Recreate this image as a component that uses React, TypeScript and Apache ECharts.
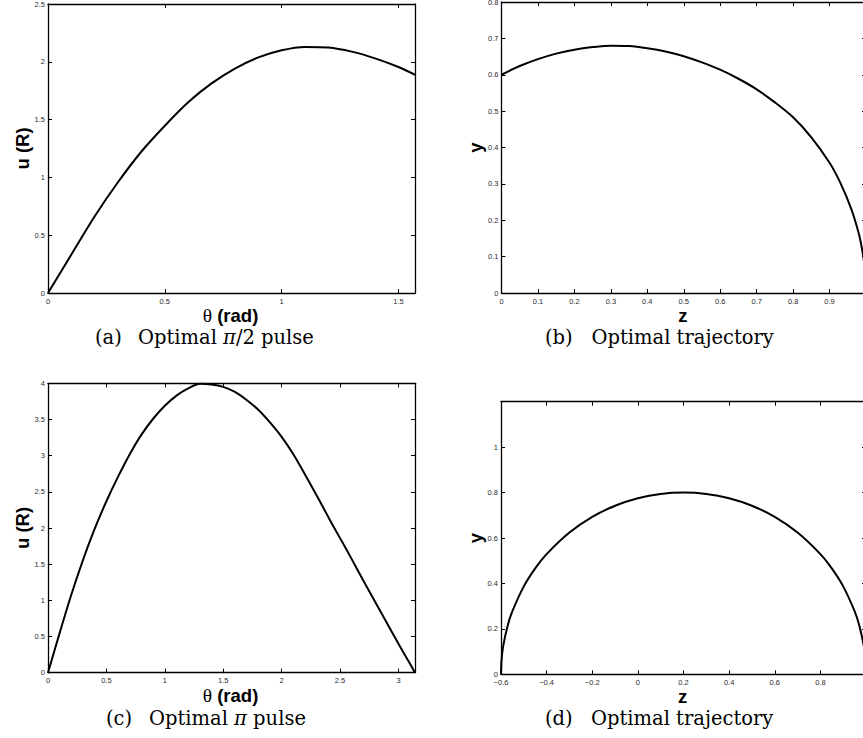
import React, { useEffect, useRef } from "react";
import * as echarts from "echarts";

// (a) optimal pi/2 pulse: control amplitude u (units of R) against rotation angle theta
const thetaHalf = [0, 0.1, 0.2, 0.3, 0.4, 0.5, 0.6, 0.7, 0.8, 0.9, 1.0, 1.1, 1.2, 1.3, 1.4, 1.5, 1.5708];
const uHalf = [0, 0.333, 0.664, 0.96, 1.224, 1.447, 1.65, 1.813, 1.942, 2.038, 2.1, 2.129, 2.124, 2.088, 2.03, 1.955, 1.888];

// (b) trajectory of the pi/2 pulse in the (z, y) plane
const zTrajHalf = [0, 0.05, 0.1, 0.15, 0.2, 0.25, 0.3, 0.35, 0.4, 0.45, 0.5, 0.55, 0.6, 0.65, 0.7, 0.75, 0.8, 0.85, 0.9, 0.93, 0.96, 0.98, 0.99, 0.997, 1.0];
const yTrajHalf = [0.6, 0.624, 0.643, 0.658, 0.669, 0.676, 0.68, 0.679, 0.673, 0.664, 0.651, 0.634, 0.614, 0.589, 0.56, 0.524, 0.483, 0.428, 0.358, 0.302, 0.23, 0.164, 0.116, 0.064, 0];

// (c) optimal pi pulse
const thetaFull = [0, 0.1, 0.2, 0.3, 0.4, 0.5, 0.6, 0.7, 0.8, 0.9, 1.0, 1.1, 1.2, 1.3, 1.4, 1.5, 1.6, 1.7, 1.8, 1.9, 2.0, 2.1, 2.2, 2.3, 2.4, 2.5, 2.6, 2.7, 2.8, 2.9, 3.0, 3.1, 3.1416];
const uFull = [0, 0.55, 1.08, 1.56, 1.99, 2.37, 2.71, 3.02, 3.29, 3.51, 3.69, 3.83, 3.93, 3.995, 3.985, 3.95, 3.88, 3.77, 3.635, 3.46, 3.26, 3.02, 2.74, 2.45, 2.15, 1.86, 1.57, 1.27, 0.98, 0.69, 0.4, 0.12, 0];

// (d) trajectory of the pi pulse
const zTrajFull = [-0.6, -0.598, -0.59, -0.57, -0.55, -0.5, -0.45, -0.4, -0.3, -0.2, -0.1, 0, 0.1, 0.2, 0.3, 0.4, 0.5, 0.6, 0.7, 0.8, 0.85, 0.9, 0.95, 0.97, 0.99, 0.998, 1.0];
const yTrajFull = [0, 0.057, 0.126, 0.217, 0.278, 0.387, 0.466, 0.529, 0.624, 0.693, 0.742, 0.775, 0.794, 0.8, 0.794, 0.775, 0.742, 0.693, 0.624, 0.529, 0.466, 0.387, 0.278, 0.217, 0.126, 0.057, 0];

const captionTags = ["(a)", "(b)", "(c)", "(d)"];
const captionTexts = ["Optimal {i|\u03c0}/2 pulse", "Optimal trajectory", "Optimal {i|\u03c0} pulse", "Optimal trajectory"];
const xTitles = ["{t|\u03b8} {b|(rad)}", "{b|z}", "{t|\u03b8} {b|(rad)}", "{b|z}"];
const yTitles = ["u (R)", "y", "u (R)", "y"];

const W = 863;
const H = 738;

const SANS = '"Liberation Sans", Arial, Helvetica, sans-serif';
const SERIF = '"Liberation Serif", "Times New Roman", serif';
const CAPTION_SERIF = '"DejaVu Serif", serif';

type Range = { min: number; max: number; step: number; labelMax: number };

function tickFormatter(r: Range) {
  return (v: number) => {
    const k = Math.round(v / r.step);
    if (Math.abs(v - k * r.step) > 1e-6 || v > r.labelMax + 1e-9) return "";
    const s = String(parseFloat(v.toFixed(3)));
    return s.replace("-", "\u2212");
  };
}

const axisLineStyle = { color: "#000", width: 1.3 };
const tickLabelStyle = { show: true, fontSize: 7.5, color: "#2a2a2a", fontFamily: SANS };

function boxAxis(grid: number, r: Range, pos: string, labelled: boolean) {
  return {
    gridIndex: grid,
    type: "value",
    position: pos,
    min: r.min,
    max: r.max,
    interval: r.step,
    splitLine: { show: false },
    axisLine: { show: true, onZero: false, lineStyle: axisLineStyle },
    axisTick: { show: true, inside: true, length: 4, lineStyle: { color: "#000", width: 1 } },
    axisLabel: labelled
      ? { ...tickLabelStyle, margin: pos === "bottom" ? 4 : 3, formatter: tickFormatter(r) }
      : { show: false },
  };
}

function pairs(xs: number[], ys: number[]) {
  return xs.map((x, i) => [x, ys[i]]);
}

export default function App() {
  const ref = useRef<HTMLDivElement>(null);

  useEffect(() => {
    if (!ref.current) return;
    const chart = echarts.init(ref.current, undefined, { renderer: "svg", width: W, height: H });

    const boxes = [
      { left: 48, top: 4, width: 367, height: 289 },
      { left: 501.5, top: 2, width: 364.5, height: 291 },
      { left: 48, top: 383.3, width: 367, height: 289.4 },
      { left: 501, top: 401.7, width: 365, height: 272.6 },
    ];
    const grids = boxes.map((g) => ({ ...g, show: false, containLabel: false, outerBoundsMode: "none" }));

    const xRanges: Range[] = [
      { min: 0, max: 1.5708, step: 0.5, labelMax: 1.5 },
      { min: 0, max: 1, step: 0.1, labelMax: 0.9 },
      { min: 0, max: 3.1416, step: 0.5, labelMax: 3 },
      { min: -0.6, max: 1, step: 0.2, labelMax: 0.8 },
    ];
    const yRanges: Range[] = [
      { min: 0, max: 2.5, step: 0.5, labelMax: 2.5 },
      { min: 0, max: 0.8, step: 0.1, labelMax: 0.8 },
      { min: 0, max: 4, step: 0.5, labelMax: 4 },
      { min: 0, max: 1.2, step: 0.2, labelMax: 1 },
    ];

    const xAxis = xRanges.flatMap((r, i) => [boxAxis(i, r, "bottom", true), boxAxis(i, r, "top", false)]);
    const yAxis = yRanges.flatMap((r, i) => [boxAxis(i, r, "left", true), boxAxis(i, r, "right", false)]);

    const curves = [
      pairs(thetaHalf, uHalf),
      pairs(zTrajHalf, yTrajHalf),
      pairs(thetaFull, uFull),
      pairs(zTrajFull, yTrajFull),
    ];

    const series = curves.map((data, i) => ({
      type: "line",
      xAxisIndex: 2 * i,
      yAxisIndex: 2 * i,
      data,
      showSymbol: false,
      symbol: "none",
      smooth: 0.3,
      lineStyle: { color: "#000", width: 2 },
      silent: true,
    }));

    const center = (s: string, extra: object = {}) => ({
      align: "center",
      verticalAlign: "middle",
      textAlign: "center",
      textVerticalAlign: "middle",
      fill: "#000",
      text: s,
      ...extra,
    });

    // axis titles, centred on each plot box
    const titles = boxes.flatMap((b, i) => [
      {
        type: "text",
        x: b.left + b.width / 2 - 1,
        y: b.top + b.height + 22.5,
        silent: true,
        style: center(xTitles[i], {
          font: `bold 18.5px ${SANS}`,
          rich: {
            t: { fontFamily: SERIF, fontSize: 19.5, fontWeight: "normal", color: "#000" },
            b: { fontFamily: SANS, fontSize: 18.5, fontWeight: "bold", color: "#000" },
          },
        }),
      },
      {
        type: "text",
        x: b.left - 26,
        y: b.top + b.height / 2,
        rotation: Math.PI / 2,
        silent: true,
        style: center(yTitles[i], { font: `bold 18.5px ${SANS}` }),
      },
    ]);

    // sub-figure captions: tag x, text x, top
    const captionPos = [
      [95, 138, 327],
      [545, 591.5, 327],
      [106, 149, 708],
      [545, 591, 708],
    ];
    const captions = captionTags.flatMap((tag, i) => {
      const [tx, sx, top] = captionPos[i];
      return [
        {
          type: "text",
          x: tx,
          y: top,
          silent: true,
          style: { text: tag, font: `19.5px ${CAPTION_SERIF}`, fill: "#000" },
        },
        {
          type: "text",
          x: sx,
          y: top,
          silent: true,
          style: {
            text: captionTexts[i],
            font: `19.5px ${CAPTION_SERIF}`,
            fill: "#000",
            rich: { i: { fontFamily: CAPTION_SERIF, fontSize: 19.5, fontStyle: "italic", color: "#000" } },
          },
        },
      ];
    });

    chart.setOption({
      animation: false,
      backgroundColor: "#fff",
      grid: grids,
      xAxis,
      yAxis,
      series,
      graphic: [...titles, ...captions],
    } as any);

    return () => chart.dispose();
  }, []);

  return (
    <div
      ref={ref}
      style={{ position: "absolute", left: 0, top: 0, width: W, height: H, background: "#fff" }}
    />
  );
}
